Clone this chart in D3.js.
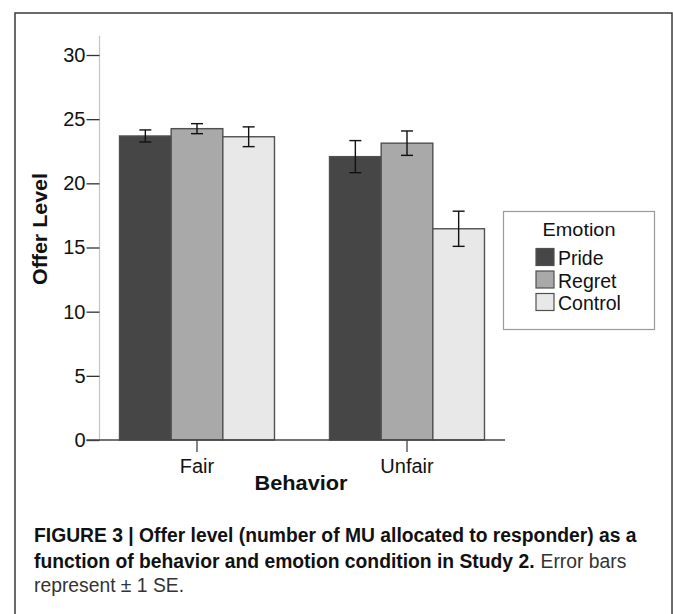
<!DOCTYPE html>
<html>
<head>
<meta charset="utf-8">
<script src="https://cdn.jsdelivr.net/npm/d3@7/dist/d3.min.js"></script>
<style>
  html, body { margin: 0; padding: 0; background: #fff; }
  svg { display: block; }
  text { font-family: Arial, "Liberation Sans", Helvetica, sans-serif; }
</style>
</head>
<body>
<svg id="chart" width="673" height="614"></svg>
<script>
// ---- data ----
const categories = ["Fair", "Unfair"];
const emotions = ["Pride", "Regret", "Control"];
const prideMeans = [23.69, 22.08];
const regretMeans = [24.26, 23.13];
const controlMeans = [23.63, 16.46];
const prideSE = [0.47, 1.25];
const regretSE = [0.39, 0.95];
const controlSE = [0.77, 1.37];
const yTicks = [0, 5, 10, 15, 20, 25, 30];
const emotionColors = ["#464646", "#a9a9a9", "#e8e8e8"];
const yAxisTitle = "Offer Level";
const xAxisTitle = "Behavior";
const legendTitle = "Emotion";

const meansByEmotion = [prideMeans, regretMeans, controlMeans];
const seByEmotion = [prideSE, regretSE, controlSE];
const rows = [];
categories.forEach((c, ci) => {
  emotions.forEach((e, ei) => {
    rows.push({ cat: c, emo: e, mean: meansByEmotion[ei][ci], se: seByEmotion[ei][ci] });
  });
});

const svg = d3.select("#chart");

// frame
svg.append("rect").attr("x", 15).attr("y", 13).attr("width", 657).attr("height", 640)
  .attr("fill", "#fff").attr("stroke", "#3a3a3a").attr("stroke-width", 1.5);

// scales
const y = d3.scaleLinear().domain([0, 30]).range([440, 55]);
const x0 = d3.scaleBand().domain(categories).range([92, 512]).paddingInner(0.262).paddingOuter(0.131);
const x1 = d3.scaleBand().domain(emotions).range([0, x0.bandwidth()]).padding(0);
const color = d3.scaleOrdinal().domain(emotions).range(emotionColors);

const axisX = 99.5;

// y axis line (light)
svg.append("line").attr("x1", axisX).attr("x2", axisX)
  .attr("y1", y(31.5)).attr("y2", y(0))
  .attr("stroke", "#c4c4c4").attr("stroke-width", 1.2);

// y axis ticks and labels
const yAxis = d3.axisLeft(y).tickValues(yTicks).tickSize(13).tickPadding(1).tickFormat(d3.format("d"));
const gy = svg.append("g").attr("transform", `translate(${axisX},0)`).call(yAxis);
gy.select(".domain").remove();
gy.selectAll(".tick line").attr("stroke", "#333").attr("stroke-width", 1.3);
gy.selectAll(".tick text").attr("font-size", 20).attr("fill", "#111")
  .attr("font-family", "Arial, 'Liberation Sans', sans-serif");

// bars
const groups = svg.append("g").selectAll("g").data(categories).join("g")
  .attr("transform", d => `translate(${x0(d)},0)`);

groups.selectAll("rect")
  .data(c => rows.filter(r => r.cat === c))
  .join("rect")
  .attr("x", d => x1(d.emo))
  .attr("y", d => y(d.mean))
  .attr("width", x1.bandwidth())
  .attr("height", d => y(0) - y(d.mean))
  .attr("fill", d => color(d.emo))
  .attr("stroke", "#505050")
  .attr("stroke-width", 1.4);

// x axis baseline
svg.append("line").attr("x1", axisX - 13).attr("x2", 505)
  .attr("y1", y(0)).attr("y2", y(0)).attr("stroke", "#444").attr("stroke-width", 1.3);

// error bars
const capW = 12;
groups.selectAll("g.err")
  .data(c => rows.filter(r => r.cat === c))
  .join("g").attr("class", "err")
  .each(function(d) {
    const g = d3.select(this);
    const cx = x1(d.emo) + x1.bandwidth() / 2;
    const yt = y(d.mean + d.se), yb = y(d.mean - d.se);
    g.append("line").attr("x1", cx).attr("x2", cx).attr("y1", yt).attr("y2", yb);
    g.append("line").attr("x1", cx - capW / 2).attr("x2", cx + capW / 2).attr("y1", yt).attr("y2", yt);
    g.append("line").attr("x1", cx - capW / 2).attr("x2", cx + capW / 2).attr("y1", yb).attr("y2", yb);
    g.selectAll("line").attr("stroke", "#111").attr("stroke-width", 1.4);
  });

// x axis ticks & labels
const xAxis = d3.axisBottom(x0).tickSize(12).tickPadding(7);
const gx = svg.append("g").attr("transform", `translate(0,${y(0)})`).call(xAxis);
gx.select(".domain").remove();
gx.selectAll(".tick line").attr("stroke", "#444").attr("stroke-width", 1.3);
gx.selectAll(".tick text").attr("font-size", 20).attr("fill", "#111")
  .attr("font-family", "Arial, 'Liberation Sans', sans-serif");

// axis titles
svg.append("text").attr("x", 301).attr("y", 490).attr("text-anchor", "middle")
  .attr("font-size", 21).attr("font-weight", "bold").attr("fill", "#111")
  .attr("textLength", 93).attr("lengthAdjust", "spacingAndGlyphs")
  .text(xAxisTitle);
svg.append("text").attr("transform", "translate(47,229) rotate(-90)").attr("text-anchor", "middle")
  .attr("font-size", 21).attr("font-weight", "bold").attr("fill", "#111")
  .attr("textLength", 112).attr("lengthAdjust", "spacingAndGlyphs")
  .text(yAxisTitle);

// legend
const lg = svg.append("g");
lg.append("rect").attr("x", 503.5).attr("y", 211.5).attr("width", 151).attr("height", 118)
  .attr("fill", "#fff").attr("stroke", "#9a9a9a").attr("stroke-width", 1.2);
lg.append("text").attr("x", 579).attr("y", 236).attr("text-anchor", "middle")
  .attr("font-size", 19).attr("fill", "#111")
  .attr("textLength", 73).attr("lengthAdjust", "spacingAndGlyphs")
  .text(legendTitle);
const lItems = lg.selectAll("g.item").data(emotions).join("g").attr("class", "item")
  .attr("transform", (d, i) => `translate(536,${248.5 + i * 22.5})`);
lItems.append("rect").attr("width", 18).attr("height", 17)
  .attr("fill", d => color(d)).attr("stroke", "#505050").attr("stroke-width", 1.2);
lItems.append("text").attr("x", 22).attr("y", 16.5)
  .attr("font-size", 19.5).attr("fill", "#111")
  .text(d => d);

// caption: condensed with a uniform horizontal scale taken from line 1
function capText(str, bold, fill) {
  return svg.append("text").attr("x", 0).attr("y", 0)
    .attr("font-size", 21).attr("font-weight", bold ? "bold" : "normal")
    .attr("fill", fill).text(str);
}
const c1 = capText("FIGURE 3 | Offer level (number of MU allocated to responder) as a", true, "#111");
const sx = 603 / c1.node().getComputedTextLength();
c1.attr("transform", `translate(34,542) scale(${sx},1)`);
const c2a = capText("function of behavior and emotion condition in Study 2.", true, "#111");
c2a.attr("transform", `translate(34,568) scale(${sx},1)`);
const w2a = c2a.node().getComputedTextLength() * sx;
const c2b = capText("Error bars", false, "#333");
c2b.attr("transform", `translate(${34 + w2a + 6},568) scale(${sx},1)`);
const c3 = capText("represent \u00b1 1 SE.", false, "#333");
c3.attr("transform", `translate(34,592) scale(${sx},1)`);
</script>
</body>
</html>
